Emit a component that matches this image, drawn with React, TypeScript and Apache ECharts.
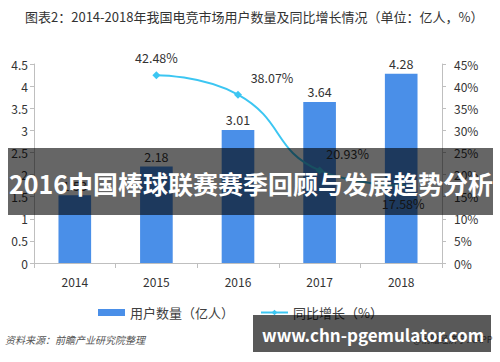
import React, { useEffect, useRef } from "react";
import * as echarts from "echarts";

const years = ["2014", "2015", "2016", "2017", "2018"];
const users = [1.53, 2.18, 3.01, 3.64, 4.28];
const growth: (number | null)[] = [null, 42.48, 38.07, 20.93, 17.58];
const leftTicks = { min: 0, max: 4.5, interval: 0.5 };
const rightTicks = { min: 0, max: 45, interval: 5 };
const titleText = "图表2：2014-2018年我国电竞市场用户数量及同比增长情况（单位：亿人，%）";
const sourceText = "资料来源：前瞻产业研究院整理";
const bannerText = "2016中国棒球联赛赛季回顾与发展趋势分析";
const urlText = "www.chn-pgemulator.com";

const FONT = "'Noto Sans CJK SC', 'Noto Sans', sans-serif";

export default function App() {
  const ref = useRef<HTMLDivElement>(null);
  useEffect(() => {
    if (!ref.current) return;
    const chart = echarts.init(ref.current, null, { renderer: "svg" });
    const lineLabelCfg = [
      null,
      { position: "top", offset: [0, -2] },
      { position: "top", offset: [34, -2] },
      { position: "top", offset: [28, -2] },
      { position: "bottom", offset: [2, 3] },
    ];
    chart.setOption({
      animation: false,
      textStyle: { fontFamily: FONT },
      grid: { left: 34, right: 58, top: 64, bottom: 99 },
      legend: {
        bottom: 38,
        left: 93,
        itemGap: 26,
        itemWidth: 27,
        itemHeight: 7,
        textStyle: { fontSize: 13, color: "#404040", fontFamily: FONT },
        data: [
          { name: "用户数量（亿人）", icon: "rect" },
          { name: "同比增长（%）" },
        ],
      },
      xAxis: {
        type: "category",
        data: years,
        axisLine: { lineStyle: { color: "#bfbfbf" } },
        axisTick: { show: true, length: 5, lineStyle: { color: "#bfbfbf" } },
        axisLabel: { color: "#333", fontSize: 12, margin: 12, fontFamily: FONT },
      },
      yAxis: [
        {
          type: "value",
          ...leftTicks,
          axisLine: { show: true, lineStyle: { color: "#bfbfbf" } },
          axisTick: { show: true, length: 4, lineStyle: { color: "#bfbfbf" } },
          splitLine: { show: false },
          axisLabel: { color: "#333", fontSize: 12, margin: 6, fontFamily: FONT },
        },
        {
          type: "value",
          ...rightTicks,
          position: "right",
          axisLine: { show: true, lineStyle: { color: "#bfbfbf" } },
          axisTick: { show: true, length: 4, lineStyle: { color: "#bfbfbf" } },
          splitLine: { show: false },
          axisLabel: { color: "#333", fontSize: 12, margin: 12, formatter: "{value}%", fontFamily: FONT },
        },
      ],
      series: [
        {
          name: "用户数量（亿人）",
          type: "bar",
          data: users,
          barWidth: "40%",
          itemStyle: { color: "#4a8fe8" },
          label: {
            show: true,
            position: "top",
            distance: 4,
            color: "#333",
            fontSize: 12.5,
            fontFamily: FONT,
            formatter: (p: any) => p.value.toFixed(2),
          },
        },
        {
          name: "同比增长（%）",
          type: "line",
          yAxisIndex: 1,
          smooth: true,
          symbol: "diamond",
          symbolSize: 8,
          showSymbol: true,
          lineStyle: { color: "#3cc6f2", width: 2 },
          itemStyle: { color: "#3cc6f2" },
          data: growth.map((v, i) =>
            v === null
              ? null
              : {
                  value: v,
                  label: {
                    show: true,
                    color: "#333",
                    fontSize: 12.5,
                    fontFamily: FONT,
                    formatter: v.toFixed(2) + "%",
                    ...(lineLabelCfg[i] as any),
                  },
                }
          ),
        },
      ],
      graphic: [
        {
          type: "text",
          left: 25,
          top: 10,
          style: { text: titleText, fill: "#333", font: `13px ${FONT}` },
        },
        {
          type: "text",
          left: 5,
          top: 334,
          style: { text: sourceText, fill: "#555", font: `italic 10px ${FONT}` },
        },
        {
          type: "text",
          left: 413,
          top: 335,
          style: { text: "@前瞻经济学人APP", fill: "#666", font: `9px ${FONT}` },
        },
        {
          type: "rect",
          z: 100,
          shape: { x: 8, y: 148, width: 485, height: 67 },
          style: { fill: "rgba(0,0,0,0.6)" },
        },
        {
          type: "text",
          z: 101,
          x: 251,
          y: 183,
          style: {
            text: bannerText,
            fill: "#fff",
            font: `bold 25px ${FONT}`,
            align: "center",
            verticalAlign: "middle",
          },
        },
        {
          type: "rect",
          z: 100,
          shape: { x: 253, y: 315, width: 238, height: 37 },
          style: { fill: "rgba(0,0,0,0.65)" },
        },
        {
          type: "text",
          z: 101,
          x: 262,
          y: 334,
          style: {
            text: urlText,
            fill: "#fff",
            font: `bold 17px ${FONT}`,
            align: "left",
            verticalAlign: "middle",
          },
        },
      ],
    });
    return () => chart.dispose();
  }, []);
  return (
    <div
      ref={ref}
      style={{ position: "fixed", left: 0, top: 0, width: 500, height: 362, background: "#fff" }}
    />
  );
}
